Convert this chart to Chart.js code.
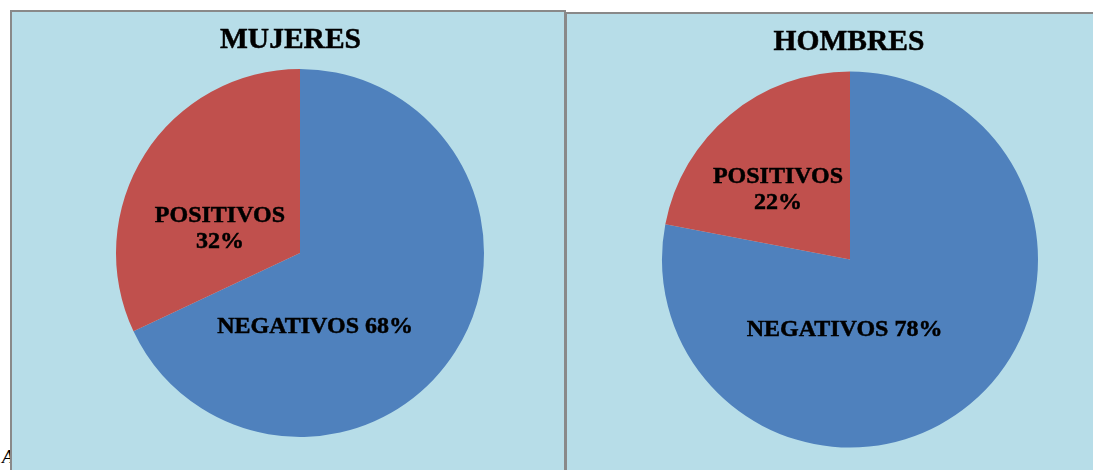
<!DOCTYPE html>
<html>
<head>
<meta charset="utf-8">
<script src="https://cdn.jsdelivr.net/npm/chart.js@4.4.0/dist/chart.umd.min.js"></script>
<style>
    body { margin: 0; width: 1093px; height: 470px; overflow: hidden; background: #fff; position: relative; }
    .panel { position: absolute; background: #B7DDE8; border: 0 solid #898989; box-sizing: content-box; }
    #panelA { left: 10px; top: 10px; width: 552px; height: 460px; border-width: 2px 2px 0 2px; z-index: 2; }
    #panelB { left: 565px; top: 12px; width: 530px; height: 458px; border-width: 2px 0 0 2px; z-index: 1; }
    .panel canvas { position: absolute; left: 0; top: 0; }
    #stray { position: absolute; left: 2px; top: 446px; font: italic 19px "Liberation Serif"; color: #000; z-index: 0; }
</style>
</head>
<body>
<span id="stray">A</span>
<div class="panel" id="panelA"><canvas id="MujeresChart" width="552" height="458"></canvas></div>
<div class="panel" id="panelB"><canvas id="HombresChart" width="526" height="456"></canvas></div>
<script>
    const categories = ['NEGATIVOS', 'POSITIVOS'];
    const mujeres = [68, 32];
    const hombres = [78, 22];
    const titles = ['MUJERES', 'HOMBRES'];
    const colors = ['#4F81BD', '#C0504D'];

    // titles + data labels, drawn on top of the pie
    const pieText = {
        id: 'pieText',
        afterDraw(chart, args, opts) {
            const ctx = chart.ctx;
            const meta = chart.getDatasetMeta(0);
            const ds = chart.data.datasets[0];
            ctx.save();
            ctx.fillStyle = '#000';
            ctx.strokeStyle = '#000';
            ctx.lineWidth = 0.5;
            ctx.textAlign = 'center';
            ctx.textBaseline = 'alphabetic';
            ctx.font = 'bold 29.5px "Liberation Serif"';
            ctx.fillText(opts.title, opts.titleX, opts.titleY);
            ctx.strokeText(opts.title, opts.titleX, opts.titleY);

            ctx.font = 'bold 24px "Liberation Serif"';
            meta.data.forEach(function (arc, i) {
                const r = arc.outerRadius;
                const cx = arc.x + opts.anchors[i][0] * r;
                const cy = arc.y + opts.anchors[i][1] * r;
                const name = chart.data.labels[i];
                const pct = ds.data[i] + '%';
                const lines = opts.stacked[i] ? [name, pct] : [name + ' ' + pct];
                lines.forEach(function (t, k) {
                    const y = cy + 8 + (k - (lines.length - 1) / 2) * 26;
                    ctx.fillText(t, cx, y);
                    ctx.strokeText(t, cx, y);
                });
            });
            ctx.restore();
        }
    };

    function makePie(id, values, radius, padding, text) {
        return new Chart(document.getElementById(id), {
            type: 'pie',
            data: {
                labels: categories,
                datasets: [{
                    data: values,
                    backgroundColor: colors,
                    borderWidth: 0
                }]
            },
            options: {
                responsive: false,
                animation: false,
                radius: radius,
                layout: { padding: padding },
                plugins: {
                    legend: { display: false },
                    tooltip: { enabled: false },
                    title: { display: false },
                    pieText: text
                }
            },
            plugins: [pieText]
        });
    }

    makePie('MujeresChart', mujeres, 184,
        { left: 24, right: 0, top: 30, bottom: 6 },
        {
            title: titles[0], titleX: 278.5, titleY: 36,
            anchors: [[0.082, 0.391], [-0.435, -0.141]],
            stacked: [false, true]
        });

    makePie('HombresChart', hombres, 188,
        { left: 40, right: 0, top: 40, bottom: 5 },
        {
            title: titles[1], titleX: 282, titleY: 36,
            anchors: [[-0.029, 0.364], [-0.383, -0.380]],
            stacked: [false, true]
        });
</script>
</body>
</html>
